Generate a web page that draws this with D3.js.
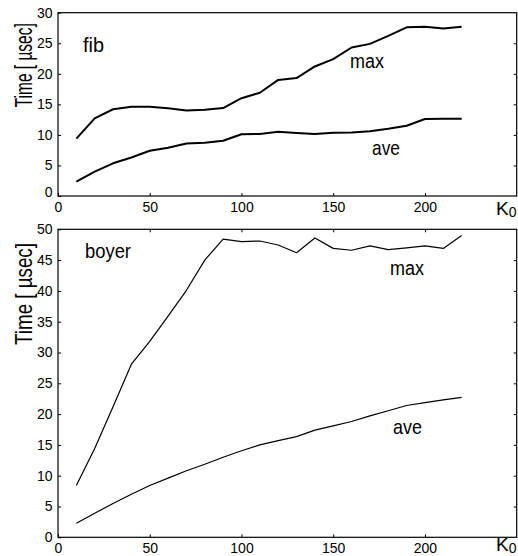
<!DOCTYPE html>
<html>
<head>
<meta charset="utf-8">
<script src="https://cdn.jsdelivr.net/npm/d3@7"></script>
<style>
  body { margin: 0; background: #fff; }
  text { font-family: "Liberation Sans", Arial, sans-serif; fill: #000; }
</style>
</head>
<body>
<script>
// K0 values shared by both panels
const k0 = [10, 20, 30, 40, 50, 60, 70, 80, 90, 100, 110, 120, 130, 140, 150, 160, 170, 180, 190, 200, 210, 220];

// fib panel (Time in usec)
const fibMax = [9.4, 12.7, 14.2, 14.6, 14.6, 14.35, 14.0, 14.1, 14.4, 16.0, 16.9, 19.0, 19.3, 21.2, 22.4, 24.3, 24.9, 26.2, 27.6, 27.7, 27.4, 27.7];
const fibAve = [2.35, 4.0, 5.35, 6.3, 7.4, 7.9, 8.6, 8.7, 9.05, 10.1, 10.15, 10.5, 10.3, 10.15, 10.35, 10.4, 10.6, 11.0, 11.5, 12.6, 12.65, 12.65];

// boyer panel
const boyerMax = [8.4, 14.4, 21.2, 28.1, 31.8, 35.9, 40.1, 45.0, 48.4, 48.0, 48.1, 47.45, 46.2, 48.6, 46.9, 46.6, 47.3, 46.7, 47.0, 47.3, 46.9, 49.0];
const boyerAve = [2.27, 3.9, 5.5, 7.0, 8.4, 9.6, 10.8, 11.85, 13.0, 14.05, 15.0, 15.7, 16.35, 17.4, 18.1, 18.8, 19.7, 20.55, 21.4, 21.85, 22.3, 22.7];

const xTicks = [0, 50, 100, 150, 200];
const fibTicks = [0, 5, 10, 15, 20, 25, 30];
const boyerTicks = [0, 5, 10, 15, 20, 25, 30, 35, 40, 45, 50];

const svg = d3.select("body").append("svg")
    .attr("width", 518)
    .attr("height", 556);

const left = 58, right = 516.7;
const x = d3.scaleLinear().domain([0, 250]).range([left, right]);

// squeeze a text along its baseline to a given length
function squeeze(sel, base, len) {
    const w = sel.node().getComputedTextLength();
    sel.attr("transform", `${base} scale(${len / w},1)`);
}

function drawPanel(p) {
    const y = d3.scaleLinear().domain([0, p.yMax]).range([p.bottom, p.top]);
    const g = svg.append("g");

    // bottom axis with labels, ticks pointing in
    g.append("g")
        .attr("transform", `translate(0,${p.bottom})`)
        .call(d3.axisBottom(x).tickValues(xTicks).tickSize(-3).tickSizeOuter(0).tickPadding(5.7).tickFormat(d3.format("d")))
        .call(a => a.select(".domain").remove())
        .call(a => a.selectAll("text").style("font-size", "14px").attr("font-family", null));

    // left axis
    g.append("g")
        .attr("transform", `translate(${left},0)`)
        .call(d3.axisLeft(y).tickValues(p.yTicks).tickSize(-3).tickSizeOuter(0).tickPadding(5.5))
        .call(a => a.select(".domain").remove())
        .call(a => a.selectAll("text").style("font-size", "14px").attr("font-family", null))
        .call(a => a.selectAll(".tick text").filter(d => d === 0).attr("transform", `translate(0,${p.zeroShift})`));

    // right ticks
    g.append("g")
        .attr("transform", `translate(${right},0)`)
        .call(d3.axisRight(y).tickValues(p.yTicks.slice(1, -1)).tickSize(-3).tickSizeOuter(0).tickFormat(""))
        .call(a => a.select(".domain").remove());

    // top ticks only on the lower panel
    if (p.topTicks) {
        g.append("g")
            .attr("transform", `translate(0,${p.top})`)
            .call(d3.axisTop(x).tickValues(xTicks.slice(1)).tickSize(-3).tickSizeOuter(0).tickFormat(""))
            .call(a => a.select(".domain").remove());
    }

    g.append("rect")
        .attr("x", left).attr("y", p.top)
        .attr("width", right - left).attr("height", p.bottom - p.top)
        .attr("fill", "none").attr("stroke", "#000").attr("stroke-width", 1.2);

    const line = d3.line()
        .x((d, i) => x(k0[i]))
        .y(d => y(d));

    [p.max, p.ave].forEach(s => {
        g.append("path")
            .attr("d", line(s))
            .attr("fill", "none")
            .attr("stroke", "#000")
            .attr("stroke-width", p.lineWidth)
            .attr("stroke-linejoin", "round");
    });

    // labels inside the plot
    p.notes.forEach(n => {
        const t = g.append("text")
            .style("font-size", "20px")
            .text(n.t);
        squeeze(t, `translate(${n.x},${n.y})`, n.w);
    });

    // y label
    const yl = g.append("text")
        .attr("text-anchor", "middle")
        .style("font-size", "23px")
        .text("Time [ \u00b5sec]");
    squeeze(yl, `translate(32,${p.labelY}) rotate(-90)`, p.labelLen);

    // K0
    const k = g.append("text")
        .attr("x", 496).attr("y", p.kY)
        .style("font-size", "19px");
    k.append("tspan").text("K");
    k.append("tspan").attr("dy", p.subDy).style("font-size", "14px").text("0");
}

drawPanel({
    top: 12.7, bottom: 196, yMax: 30, yTicks: fibTicks, topTicks: false,
    max: fibMax, ave: fibAve, lineWidth: 2, zeroShift: -4,
    labelY: 65.3, labelLen: 84, kY: 215, subDy: 2,
    notes: [
        {t: "fib", x: 83, y: 52, w: 21},
        {t: "max", x: 350, y: 68, w: 34},
        {t: "ave", x: 372, y: 155, w: 28}
    ]
});

drawPanel({
    top: 229.3, bottom: 537.3, yMax: 50, yTicks: boyerTicks, topTicks: true,
    max: boyerMax, ave: boyerAve, lineWidth: 1.2, zeroShift: 0,
    labelY: 294, labelLen: 102, kY: 551, subDy: 1.5,
    notes: [
        {t: "boyer", x: 85, y: 258, w: 46},
        {t: "max", x: 390, y: 275, w: 34},
        {t: "ave", x: 393, y: 434, w: 29}
    ]
});
</script>
</body>
</html>
